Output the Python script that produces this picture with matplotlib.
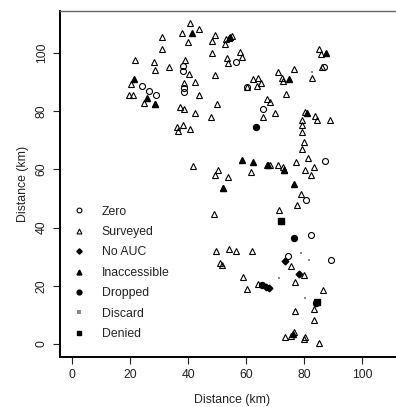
import matplotlib
matplotlib.use("Agg")
import matplotlib.pyplot as plt

plt.rcParams['font.family'] = ['Liberation Sans', 'DejaVu Sans']

# site positions (km)
zero_x = [38.3, 38.1, 23.9, 26.6, 28.9, 38.4, 38.6, 56.4, 86.7, 60.1, 65.9,
          87.1, 80.6, 82.3, 74.5, 89.3]
zero_y = [95.5, 93.9, 88.6, 87.0, 85.4, 88.0, 86.7, 96.8, 95.0, 88.4, 80.7,
          63.0, 49.4, 37.6, 30.1, 28.9]

surveyed_x = [40.6, 37.7, 43.8, 30.8, 40.0, 49.3, 48.1, 52.9, 52.6, 31.0, 48.3,
              53.4, 53.6, 21.7, 28.3, 28.5, 33.2, 39.0, 40.3, 49.2, 20.2, 19.7,
              21.0, 38.4, 42.3, 43.8, 24.6, 28.4, 37.1, 38.6, 42.4, 49.8, 47.9,
              36.2, 36.3, 38.1, 40.6, 41.5, 50.3, 49.3, 53.8,
              55.1, 54.1, 57.8, 58.4, 71.0, 76.6, 72.3, 72.8, 82.8, 85.2, 85.8,
              86.0, 62.4, 64.1, 65.1, 63.8, 60.3, 73.7, 67.2, 68.3, 65.7, 70.0,
              80.1, 79.3, 79.2, 83.7, 84.5, 88.9, 79.1, 79.9, 79.3, 67.0, 68.1,
              70.9, 72.6, 73.1, 77.2, 81.4, 80.1, 83.3, 82.3, 61.7,
              52.1, 49.0, 49.4, 54.2, 50.9, 51.5, 79.0, 77.4, 71.4, 56.4, 62.1,
              75.4, 79.9, 59.0, 60.2, 64.1, 76.9, 86.3, 83.4, 76.8, 83.2, 73.4,
              75.4, 76.3, 80.0, 80.2, 85.2]
surveyed_y = [110.4, 106.8, 108.2, 105.4, 103.8, 106.1, 104.2, 104.7, 102.9,
              101.3, 99.9, 98.2, 96.7, 97.6, 96.8, 94.1, 95.1, 97.6, 92.8, 92.3,
              89.3, 85.5, 85.5, 89.6, 90.1, 85.5, 82.9, 82.3, 81.3, 80.9, 79.2,
              82.4, 78.0, 74.4, 73.2, 75.2, 74.0, 61.0, 59.9, 57.9, 57.5,
              105.9, 105.1, 100.4, 98.7, 93.4, 94.4, 91.3, 90.3, 91.5, 101.5,
              99.7, 95.1, 91.0, 91.5, 89.8, 88.6, 88.2, 85.8, 84.0, 83.0, 78.0,
              79.4, 79.8, 77.1, 75.2, 78.3, 76.9, 77.1, 72.9, 69.4, 67.1, 61.5,
              61.5, 61.4, 60.8, 59.9, 62.5, 63.9, 59.7, 60.8, 57.9, 59.1,
              53.7, 44.5, 31.8, 32.6, 27.9, 27.0, 51.4, 47.9, 46.2, 31.8, 32.1,
              26.9, 23.6, 22.9, 18.9, 20.7, 21.4, 18.4, 12.1, 11.5, 8.3, 2.3,
              2.9, 4.0, 1.6, 2.5, 0.2]

noauc_x = [73.4, 78.3, 66.8, 67.9]
noauc_y = [28.6, 24.0, 19.6, 19.1]

inacc_x = [41.3, 21.4, 25.9, 28.4, 74.8, 87.5, 80.8, 58.6, 62.2, 67.5, 73.1,
           76.6, 52.1, 76.0, 54.5]
inacc_y = [107.0, 90.9, 84.5, 82.3, 91.0, 99.9, 79.4, 63.1, 62.5, 61.5, 59.9,
           54.8, 53.7, 3.6, 105.5]

dropped_x = [63.4, 76.3, 65.6, 84.0]
dropped_y = [74.7, 36.4, 20.2, 14.0]

discard_x = [82.8, 79.0, 81.5, 71.4, 80.2]
discard_y = [93.4, 31.3, 28.7, 22.7, 15.8]

denied_x = [72.0, 84.5]
denied_y = [42.3, 14.5]

ticks = [0, 20, 40, 60, 80, 100]
fs = 8.8

fig = plt.figure(figsize=(3.96, 4.07), dpi=100)
ax = fig.add_axes([59.5 / 396, 50.2 / 407, 344.5 / 396, 345.8 / 407])

lw = 0.8
ax.plot(zero_x, zero_y, 'o', ms=4.3, mfc='none', mec='black', mew=lw,
        label='Zero')
ax.plot(surveyed_x, surveyed_y, '^', ms=4.4, mfc='none', mec='black', mew=lw,
        label='Surveyed')
ax.plot(noauc_x, noauc_y, 'D', ms=3.4, color='black', label='No AUC')
ax.plot(inacc_x, inacc_y, '^', ms=4.4, color='black', label='Inaccessible')
ax.plot(dropped_x, dropped_y, 'o', ms=4.3, color='black', label='Dropped')
ax.plot(discard_x, discard_y, 's', ms=2.0, color='#8a8a8a', mew=0,
        label='Discard')
ax.plot(denied_x, denied_y, 's', ms=3.8, color='black', label='Denied')

ax.set_xlim(-4.4, 114.4)
ax.set_ylim(-4.4, 114.4)
ax.set_xticks(ticks)
ax.set_yticks(ticks)
ax.set_yticklabels([str(t) for t in ticks], rotation=90, va='center')
ax.tick_params(labelsize=fs, length=5, width=0.8, pad=4, colors='#222222')
ax.tick_params(axis='y', pad=3.5)

ax.spines['right'].set_visible(False)
ax.spines['left'].set_linewidth(1.4)
ax.spines['bottom'].set_linewidth(1.4)
ax.spines['top'].set_linewidth(1.0)
ax.spines['top'].set_color('#666666')

ax.set_xlabel('Distance (km)', fontsize=fs, color='#222222')
ax.set_ylabel('Distance (km)', fontsize=fs, color='#222222')
ax.xaxis.set_label_coords(0.5, -0.125)
ax.xaxis.label.set_va('center')
ax.yaxis.set_label_coords(-0.105, 0.5)
ax.yaxis.label.set_va('center')

leg = ax.legend(loc='upper left', bbox_to_anchor=(72.9 / 396, 1 - 205.5 / 407),
                bbox_transform=fig.transFigure, frameon=False, fontsize=fs,
                borderpad=0, borderaxespad=0, handlelength=1.0,
                handletextpad=1.36, labelspacing=0.69, markerscale=0.8,
                numpoints=1)
for t in leg.get_texts():
    t.set_color('#222222')
leg.legend_handles[5].set_markersize(2.2)

fig.savefig('out.png', dpi=100)
